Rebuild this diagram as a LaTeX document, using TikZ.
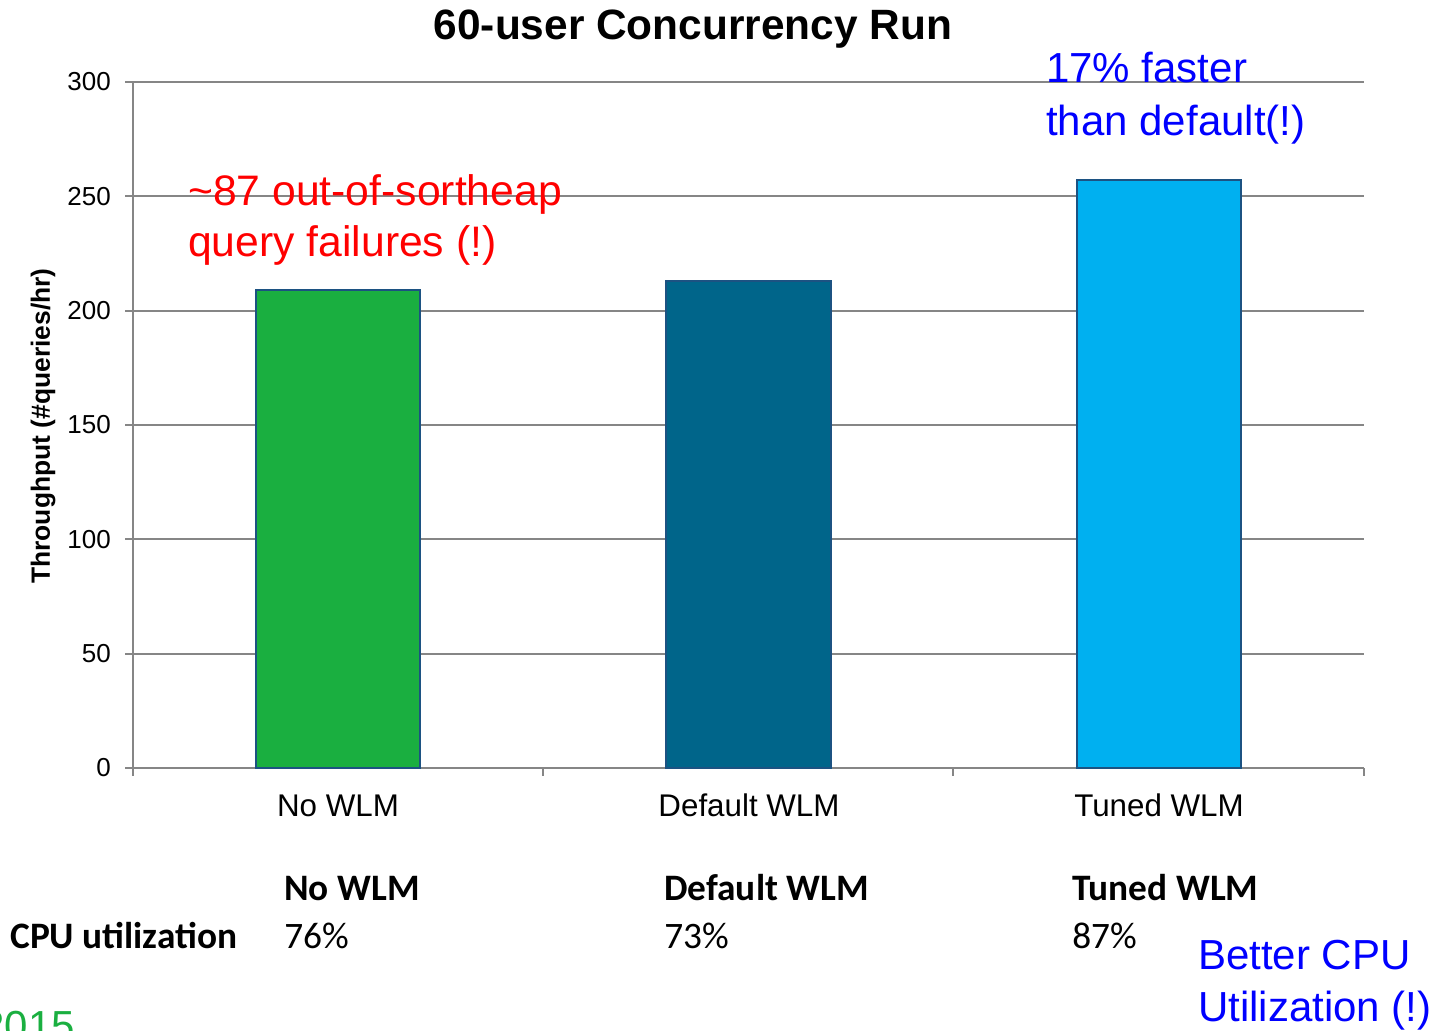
\documentclass[tikz,border=0pt]{standalone}
\usepackage{fontspec}
\setmainfont{Liberation Sans}
\newfontfamily\tablefont{Carlito}
\definecolor{gridgray}{RGB}{134,134,134}
\definecolor{barGreen}{RGB}{26,175,64}
\definecolor{barTeal}{RGB}{0,101,138}
\definecolor{barSky}{RGB}{0,176,240}
\definecolor{barEdge}{RGB}{28,82,130}
\definecolor{noteRed}{RGB}{255,0,0}
\definecolor{noteBlue}{RGB}{0,0,255}
\definecolor{logoGreen}{RGB}{26,175,64}
\begin{document}
\begin{tikzpicture}[x=0.75pt,y=-0.75pt,
  gridline/.style={draw=gridgray,line width=1.5pt},
  bar/.style={draw=barEdge,line width=1pt},
  ylab/.style={anchor=east,inner sep=0pt,font=\fontsize{19.5pt}{22pt}\selectfont},
  catlab/.style={anchor=base,inner sep=0pt,font=\fontsize{23.5pt}{27pt}\selectfont},
  note/.style={anchor=base west,inner sep=0pt,font=\fontsize{31.5pt}{36pt}\selectfont},
  tabhead/.style={anchor=base west,inner sep=0pt,font=\tablefont\bfseries\fontsize{28pt}{32pt}\selectfont},
  tabval/.style={anchor=base west,inner sep=0pt,font=\tablefont\fontsize{28pt}{32pt}\selectfont}]
\useasboundingbox (0,0) rectangle (1435,1031);
\clip (0,0) rectangle (1435,1031);

% horizontal grid lines, 50 units = 114.33 px
\foreach \v/\lab in {0/0,1/50,2/100,3/150,4/200,5/250,6/300}{
  \draw[gridline] (125,768-\v*114.33) -- (1364,768-\v*114.33);
  \node[ylab] (y\v) at (111,768-\v*114.33) {\lab};
}
% axes and category ticks
\draw[gridline] (133,82) -- (133,776);
\foreach \x in {133,543,953,1364}{
  \draw[gridline] (\x,768) -- (\x,776);
}

% bars
\draw[bar,fill=barGreen] (256,768) rectangle (420,290);
\draw[bar,fill=barTeal]  (666,768) rectangle (831,281);
\draw[bar,fill=barSky]   (1077,768) rectangle (1241,180);

% category labels
\node[catlab] (c1) at (338,816) {No WLM};
\node[catlab] (c2) at (749,816) {Default WLM};
\node[catlab] (c3) at (1159,816) {Tuned WLM};

% title and axis title
\node[anchor=base,inner sep=0pt,font=\bfseries\fontsize{31.8pt}{36pt}\selectfont] (title) at (693,40) {60-user Concurrency Run};
\node[rotate=90,inner sep=0pt,font=\bfseries\fontsize{19.8pt}{23pt}\selectfont] (ytitle) at (43,426) {Throughput (\#queries/hr)};

% annotations
\node[note,text=noteRed,font=\fontsize{32pt}{36pt}\selectfont] (r1) at (188,205) {\textasciitilde 87 out-of-sortheap};
\node[note,text=noteRed,font=\fontsize{32pt}{36pt}\selectfont] (r2) at (188,256) {query failures (!)};
\node[note,text=noteBlue] (b1) at (1046,83) {17\% faster};
\node[note,text=noteBlue] (b2) at (1046,135) {than default(!)};
\node[note,text=noteBlue] (b3) at (1198,969) {Better CPU};
\node[note,text=noteBlue] (b4) at (1198,1021) {Utilization (!)};

% CPU utilization table
\node[tabhead] (h1) at (284,900) {No WLM};
\node[tabhead] (h2) at (664,900) {Default WLM};
\node[tabhead] (h3) at (1072,900) {Tuned WLM};
\node[tabhead] (rowlab) at (10,948) {CPU utilization};
\node[tabval] (v1) at (284,948) {76\%};
\node[tabval] (v2) at (664,948) {73\%};
\node[tabval] (v3) at (1072,948) {87\%};

% footer year, running off the lower left corner
\node[note,text=logoGreen,anchor=base east] (year) at (75,1040) {2015};
\end{tikzpicture}
\end{document}
